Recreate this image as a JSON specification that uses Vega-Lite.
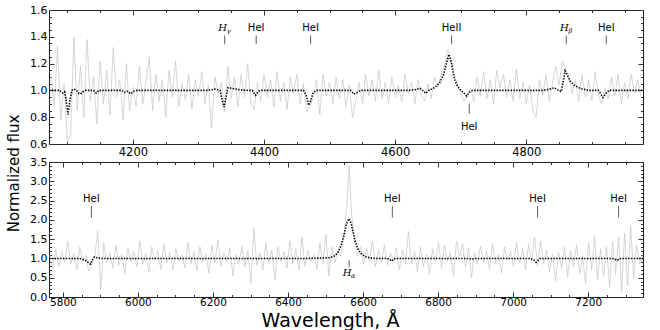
{
"$schema": "https://vega.github.io/schema/vega-lite/v6.json",
"padding": {"left": 6, "top": 3, "right": 5, "bottom": 2},
"bounds": "flush",
"spacing": 18,
"config": {"view": {"stroke": "#222", "strokeWidth": 1}, "font": "DejaVu Sans", "axis": {"labelFont": "DejaVu Sans", "titleFont": "DejaVu Sans", "labelColor": "#000", "titleColor": "#000", "tickColor": "#333", "grid": false, "domain": false, "labelFlush": false, "labelOverlap": false, "labelBound": false}},
"datasets": {
"obsTop": [
{"w":4075,"f":1.12},{"w":4080,"f":0.88},{"w":4085,"f":1.33},{"w":4090,"f":0.78},{"w":4095,"f":1.05},{"w":4100,"f":0.62},{"w":4105,"f":0.66},{"w":4110,"f":1.40},{"w":4115,"f":0.85},{"w":4120,"f":1.18},{"w":4125,"f":0.80},{"w":4130,"f":1.38},{"w":4135,"f":0.92},{"w":4140,"f":1.10},{"w":4145,"f":0.75},{"w":4150,"f":1.22},{"w":4155,"f":0.90},{"w":4160,"f":1.15},{"w":4165,"f":0.82},{"w":4170,"f":1.32},{"w":4175,"f":0.95},{"w":4180,"f":1.08},{"w":4185,"f":0.78},{"w":4190,"f":1.20},{"w":4195,"f":0.85},{"w":4200,"f":1.02},{"w":4205,"f":0.88},{"w":4210,"f":1.18},{"w":4215,"f":0.90},{"w":4220,"f":1.06},{"w":4225,"f":1.25},{"w":4230,"f":0.85},{"w":4235,"f":1.12},{"w":4240,"f":0.92},{"w":4245,"f":1.08},{"w":4250,"f":0.80},{"w":4255,"f":1.15},{"w":4260,"f":0.95},{"w":4265,"f":1.22},{"w":4270,"f":0.88},{"w":4275,"f":1.05},{"w":4280,"f":0.93},{"w":4285,"f":1.12},{"w":4290,"f":0.86},{"w":4295,"f":1.08},{"w":4300,"f":0.96},{"w":4305,"f":1.14},{"w":4310,"f":0.90},{"w":4315,"f":1.04},{"w":4320,"f":0.72},{"w":4325,"f":1.10},{"w":4330,"f":0.98},{"w":4335,"f":1.06},{"w":4340,"f":0.84},{"w":4345,"f":1.18},{"w":4350,"f":0.94},{"w":4355,"f":1.10},{"w":4360,"f":0.88},{"w":4365,"f":1.12},{"w":4370,"f":0.95},{"w":4375,"f":1.20},{"w":4380,"f":0.90},{"w":4385,"f":0.86},{"w":4390,"f":1.06},{"w":4395,"f":0.92},{"w":4400,"f":1.12},{"w":4405,"f":0.95},{"w":4410,"f":1.08},{"w":4415,"f":0.88},{"w":4420,"f":1.14},{"w":4425,"f":0.92},{"w":4430,"f":1.06},{"w":4435,"f":0.86},{"w":4440,"f":1.10},{"w":4445,"f":0.98},{"w":4450,"f":1.12},{"w":4455,"f":0.90},{"w":4460,"f":1.05},{"w":4465,"f":0.84},{"w":4470,"f":0.88},{"w":4475,"f":0.95},{"w":4480,"f":1.08},{"w":4485,"f":0.82},{"w":4490,"f":1.12},{"w":4495,"f":0.96},{"w":4500,"f":1.06},{"w":4505,"f":0.90},{"w":4510,"f":1.10},{"w":4515,"f":0.94},{"w":4520,"f":1.08},{"w":4525,"f":0.88},{"w":4530,"f":1.04},{"w":4535,"f":0.80},{"w":4540,"f":0.92},{"w":4545,"f":1.06},{"w":4550,"f":0.90},{"w":4555,"f":1.12},{"w":4560,"f":0.96},{"w":4565,"f":1.08},{"w":4570,"f":0.92},{"w":4575,"f":1.15},{"w":4580,"f":0.94},{"w":4585,"f":1.06},{"w":4590,"f":0.90},{"w":4595,"f":1.10},{"w":4600,"f":0.95},{"w":4605,"f":1.04},{"w":4610,"f":0.92},{"w":4615,"f":1.12},{"w":4620,"f":0.98},{"w":4625,"f":1.06},{"w":4630,"f":0.90},{"w":4635,"f":1.08},{"w":4640,"f":0.96},{"w":4645,"f":0.92},{"w":4650,"f":1.05},{"w":4655,"f":0.94},{"w":4660,"f":1.10},{"w":4665,"f":1.02},{"w":4670,"f":1.12},{"w":4675,"f":1.18},{"w":4680,"f":1.30},{"w":4685,"f":1.24},{"w":4690,"f":1.12},{"w":4695,"f":1.05},{"w":4700,"f":0.98},{"w":4705,"f":0.92},{"w":4710,"f":0.96},{"w":4715,"f":1.02},{"w":4720,"f":0.92},{"w":4725,"f":1.10},{"w":4730,"f":0.96},{"w":4735,"f":1.14},{"w":4740,"f":0.94},{"w":4745,"f":1.08},{"w":4750,"f":0.90},{"w":4755,"f":1.15},{"w":4760,"f":1.02},{"w":4765,"f":1.12},{"w":4770,"f":0.95},{"w":4775,"f":1.08},{"w":4780,"f":0.92},{"w":4785,"f":1.16},{"w":4790,"f":0.94},{"w":4795,"f":1.06},{"w":4800,"f":0.90},{"w":4805,"f":1.04},{"w":4810,"f":0.85},{"w":4815,"f":0.80},{"w":4820,"f":1.08},{"w":4825,"f":0.96},{"w":4830,"f":1.12},{"w":4835,"f":0.92},{"w":4840,"f":1.06},{"w":4845,"f":1.18},{"w":4850,"f":1.04},{"w":4855,"f":1.22},{"w":4860,"f":1.16},{"w":4865,"f":1.10},{"w":4870,"f":0.98},{"w":4875,"f":1.08},{"w":4880,"f":0.92},{"w":4885,"f":1.12},{"w":4890,"f":0.95},{"w":4895,"f":1.08},{"w":4900,"f":0.92},{"w":4905,"f":1.14},{"w":4910,"f":0.96},{"w":4915,"f":0.90},{"w":4920,"f":1.02},{"w":4925,"f":0.94},{"w":4930,"f":1.10},{"w":4935,"f":0.96},{"w":4940,"f":1.12},{"w":4945,"f":0.90},{"w":4950,"f":1.06},{"w":4955,"f":0.94},{"w":4960,"f":1.12},{"w":4965,"f":0.98},{"w":4970,"f":1.08},{"w":4975,"f":0.95}
],
"modTop": [
{"w":4072,"f":1.0},{"w":4088,"f":1.0},{"w":4093,"f":0.98},{"w":4096,"f":0.99},{"w":4098,"f":0.93},{"w":4101,"f":0.82},{"w":4104,"f":0.93},{"w":4107,"f":1.0},{"w":4110,"f":1.01},{"w":4114,"f":1.0},{"w":4117,"f":0.98},{"w":4120,"f":0.973},{"w":4124,"f":0.99},{"w":4128,"f":1.0},{"w":4140,"f":1.0},{"w":4144,"f":0.98},{"w":4148,"f":1.0},{"w":4183,"f":1.0},{"w":4187,"f":0.985},{"w":4191,"f":0.995},{"w":4197,"f":0.975},{"w":4202,"f":0.995},{"w":4206,"f":1.0},{"w":4315,"f":1.0},{"w":4325,"f":1.01},{"w":4333,"f":1.0},{"w":4336,"f":0.93},{"w":4339,"f":0.876},{"w":4342,"f":0.95},{"w":4345,"f":1.02},{"w":4352,"f":1.015},{"w":4362,"f":1.005},{"w":4375,"f":1.0},{"w":4382,"f":1.0},{"w":4387,"f":0.963},{"w":4392,"f":0.995},{"w":4396,"f":1.0},{"w":4460,"f":1.0},{"w":4464,"f":0.97},{"w":4468,"f":0.889},{"w":4471,"f":0.92},{"w":4475,"f":0.985},{"w":4480,"f":1.0},{"w":4532,"f":1.0},{"w":4537,"f":0.972},{"w":4542,"f":0.985},{"w":4547,"f":1.0},{"w":4620,"f":1.0},{"w":4630,"f":1.005},{"w":4638,"f":1.015},{"w":4642,"f":1.0},{"w":4647,"f":0.978},{"w":4651,"f":1.0},{"w":4660,"f":1.02},{"w":4668,"f":1.058},{"w":4674,"f":1.12},{"w":4678,"f":1.2},{"w":4682,"f":1.269},{"w":4686,"f":1.2},{"w":4690,"f":1.09},{"w":4695,"f":1.03},{"w":4700,"f":1.0},{"w":4705,"f":0.98},{"w":4709,"f":0.958},{"w":4713,"f":0.985},{"w":4718,"f":1.0},{"w":4825,"f":1.0},{"w":4836,"f":1.01},{"w":4843,"f":1.02},{"w":4849,"f":1.0},{"w":4853,"f":0.99},{"w":4856,"f":1.06},{"w":4859,"f":1.145},{"w":4863,"f":1.11},{"w":4867,"f":1.07},{"w":4873,"f":1.04},{"w":4882,"f":1.015},{"w":4895,"f":1.0},{"w":4910,"f":1.0},{"w":4914,"f":0.97},{"w":4917,"f":0.946},{"w":4921,"f":0.975},{"w":4926,"f":1.0},{"w":4978,"f":1.0}
],
"mkTop": [
{"w":4340,"lab":"H","sub":"γ","ty":1.466,"t1":1.41,"t2":1.345},
{"w":4388,"lab":"HeI","sub":"","ty":1.466,"t1":1.41,"t2":1.345},
{"w":4471,"lab":"HeI","sub":"","ty":1.466,"t1":1.41,"t2":1.345},
{"w":4686,"lab":"HeII","sub":"","ty":1.466,"t1":1.41,"t2":1.345},
{"w":4861,"lab":"H","sub":"β","ty":1.466,"t1":1.41,"t2":1.345},
{"w":4922,"lab":"HeI","sub":"","ty":1.466,"t1":1.41,"t2":1.345},
{"w":4713,"lab":"HeI","sub":"","ty":0.728,"t1":0.9,"t2":0.825}
],
"obsBot": [
{"w":5765,"f":1.10},{"w":5773,"f":0.72},{"w":5781,"f":1.25},{"w":5789,"f":0.80},{"w":5797,"f":1.18},{"w":5805,"f":0.90},{"w":5813,"f":1.45},{"w":5821,"f":0.85},{"w":5829,"f":1.12},{"w":5837,"f":0.70},{"w":5845,"f":1.30},{"w":5853,"f":0.92},{"w":5861,"f":1.08},{"w":5869,"f":0.68},{"w":5877,"f":0.82},{"w":5885,"f":1.05},{"w":5893,"f":1.72},{"w":5901,"f":0.20},{"w":5909,"f":1.40},{"w":5917,"f":0.88},{"w":5925,"f":1.15},{"w":5933,"f":0.75},{"w":5941,"f":1.35},{"w":5949,"f":0.82},{"w":5957,"f":1.10},{"w":5965,"f":0.60},{"w":5973,"f":1.28},{"w":5981,"f":0.90},{"w":5989,"f":1.18},{"w":5997,"f":0.78},{"w":6005,"f":1.45},{"w":6013,"f":0.85},{"w":6021,"f":1.12},{"w":6029,"f":0.65},{"w":6037,"f":1.30},{"w":6045,"f":0.95},{"w":6053,"f":1.20},{"w":6061,"f":0.72},{"w":6069,"f":1.38},{"w":6077,"f":0.88},{"w":6085,"f":1.15},{"w":6093,"f":0.70},{"w":6101,"f":1.25},{"w":6109,"f":0.92},{"w":6117,"f":1.10},{"w":6125,"f":0.75},{"w":6133,"f":1.42},{"w":6141,"f":0.85},{"w":6149,"f":1.18},{"w":6157,"f":0.68},{"w":6165,"f":1.30},{"w":6173,"f":0.90},{"w":6181,"f":1.12},{"w":6189,"f":0.62},{"w":6197,"f":1.35},{"w":6205,"f":0.88},{"w":6213,"f":1.48},{"w":6221,"f":0.80},{"w":6229,"f":1.15},{"w":6237,"f":0.92},{"w":6245,"f":1.28},{"w":6253,"f":0.55},{"w":6261,"f":1.10},{"w":6269,"f":0.85},{"w":6277,"f":1.32},{"w":6285,"f":0.78},{"w":6293,"f":1.20},{"w":6301,"f":0.35},{"w":6309,"f":1.78},{"w":6317,"f":0.82},{"w":6325,"f":1.15},{"w":6333,"f":0.70},{"w":6341,"f":1.40},{"w":6349,"f":0.88},{"w":6357,"f":1.22},{"w":6365,"f":0.45},{"w":6373,"f":1.30},{"w":6381,"f":0.92},{"w":6389,"f":1.18},{"w":6397,"f":0.75},{"w":6405,"f":1.45},{"w":6413,"f":0.85},{"w":6421,"f":1.25},{"w":6429,"f":0.70},{"w":6437,"f":1.55},{"w":6445,"f":0.80},{"w":6453,"f":1.20},{"w":6461,"f":0.92},{"w":6469,"f":1.10},{"w":6477,"f":0.72},{"w":6485,"f":1.40},{"w":6493,"f":0.85},{"w":6501,"f":1.62},{"w":6509,"f":0.55},{"w":6517,"f":1.30},{"w":6525,"f":0.90},{"w":6533,"f":1.20},{"w":6541,"f":1.05},{"w":6549,"f":1.55},{"w":6557,"f":2.40},{"w":6563,"f":3.40},{"w":6569,"f":2.20},{"w":6577,"f":1.50},{"w":6585,"f":1.05},{"w":6593,"f":1.30},{"w":6601,"f":0.85},{"w":6609,"f":1.25},{"w":6617,"f":0.92},{"w":6625,"f":1.45},{"w":6633,"f":0.78},{"w":6641,"f":1.20},{"w":6649,"f":0.90},{"w":6657,"f":1.35},{"w":6665,"f":0.82},{"w":6673,"f":1.15},{"w":6681,"f":0.92},{"w":6689,"f":1.28},{"w":6697,"f":0.70},{"w":6705,"f":1.22},{"w":6713,"f":0.88},{"w":6721,"f":1.70},{"w":6729,"f":0.85},{"w":6737,"f":1.18},{"w":6745,"f":0.65},{"w":6753,"f":1.30},{"w":6761,"f":0.80},{"w":6769,"f":1.10},{"w":6777,"f":0.60},{"w":6785,"f":1.25},{"w":6793,"f":0.90},{"w":6801,"f":1.42},{"w":6809,"f":0.75},{"w":6817,"f":1.35},{"w":6825,"f":0.92},{"w":6833,"f":1.15},{"w":6841,"f":0.55},{"w":6849,"f":1.45},{"w":6857,"f":1.05},{"w":6865,"f":1.38},{"w":6873,"f":0.78},{"w":6881,"f":1.28},{"w":6889,"f":0.50},{"w":6897,"f":1.15},{"w":6905,"f":0.85},{"w":6913,"f":1.32},{"w":6921,"f":0.90},{"w":6929,"f":1.20},{"w":6937,"f":0.72},{"w":6945,"f":1.38},{"w":6953,"f":0.85},{"w":6961,"f":1.10},{"w":6969,"f":0.62},{"w":6977,"f":1.30},{"w":6985,"f":0.95},{"w":6993,"f":1.18},{"w":7001,"f":0.80},{"w":7009,"f":1.42},{"w":7017,"f":0.88},{"w":7025,"f":1.25},{"w":7033,"f":0.70},{"w":7041,"f":1.38},{"w":7049,"f":0.92},{"w":7057,"f":1.55},{"w":7065,"f":0.80},{"w":7073,"f":1.45},{"w":7081,"f":0.85},{"w":7089,"f":1.22},{"w":7097,"f":0.65},{"w":7105,"f":1.10},{"w":7113,"f":0.40},{"w":7121,"f":1.15},{"w":7129,"f":0.75},{"w":7137,"f":1.30},{"w":7145,"f":0.52},{"w":7153,"f":1.20},{"w":7161,"f":0.80},{"w":7169,"f":1.35},{"w":7177,"f":0.60},{"w":7185,"f":1.05},{"w":7193,"f":0.35},{"w":7201,"f":1.40},{"w":7209,"f":0.70},{"w":7217,"f":1.60},{"w":7225,"f":0.45},{"w":7233,"f":1.25},{"w":7241,"f":0.55},{"w":7249,"f":1.30},{"w":7257,"f":0.25},{"w":7265,"f":1.45},{"w":7273,"f":0.60},{"w":7281,"f":1.55},{"w":7289,"f":0.15},{"w":7297,"f":1.65},{"w":7305,"f":0.30},{"w":7313,"f":1.85},{"w":7321,"f":0.50},{"w":7329,"f":1.35},{"w":7337,"f":0.85},{"w":7345,"f":1.10}
],
"modBot": [
{"w":5763,"f":1.0},{"w":5840,"f":1.0},{"w":5850,"f":0.99},{"w":5860,"f":0.95},{"w":5868,"f":0.89},{"w":5874,"f":0.85},{"w":5879,"f":0.97},{"w":5884,"f":1.04},{"w":5890,"f":1.02},{"w":5900,"f":1.0},{"w":6450,"f":1.0},{"w":6490,"f":1.01},{"w":6512,"f":1.02},{"w":6525,"f":1.07},{"w":6534,"f":1.17},{"w":6542,"f":1.35},{"w":6549,"f":1.6},{"w":6556,"f":1.9},{"w":6562,"f":2.03},{"w":6568,"f":1.92},{"w":6573,"f":1.7},{"w":6579,"f":1.45},{"w":6586,"f":1.25},{"w":6594,"f":1.13},{"w":6605,"f":1.05},{"w":6620,"f":1.01},{"w":6640,"f":1.0},{"w":6665,"f":1.0},{"w":6672,"f":0.97},{"w":6676,"f":0.93},{"w":6680,"f":0.97},{"w":6686,"f":1.0},{"w":6880,"f":1.0},{"w":6890,"f":0.98},{"w":6900,"f":1.0},{"w":7045,"f":1.0},{"w":7055,"f":0.96},{"w":7061,"f":0.9},{"w":7066,"f":0.95},{"w":7072,"f":1.0},{"w":7265,"f":1.0},{"w":7273,"f":0.97},{"w":7278,"f":0.95},{"w":7283,"f":0.99},{"w":7288,"f":1.0},{"w":7346,"f":1.0}
],
"mkBot": [
{"w":5876,"lab":"HeI","sub":"","ty":2.55,"t1":2.36,"t2":2.06},
{"w":6678,"lab":"HeI","sub":"","ty":2.55,"t1":2.36,"t2":2.06},
{"w":7065,"lab":"HeI","sub":"","ty":2.55,"t1":2.36,"t2":2.06},
{"w":7281,"lab":"HeI","sub":"","ty":2.55,"t1":2.36,"t2":2.06},
{"w":6563,"lab":"H","sub":"α","ty":0.63,"t1":0.95,"t2":0.78}
]
},
"vconcat": [
{
"width": 594, "height": 134,
"layer": [
{"data": {"name": "obsTop"},
 "mark": {"type": "line", "color": "#c4c4c4", "strokeWidth": 0.7, "clip": true},
 "encoding": {
  "x": {"field": "w", "type": "quantitative", "scale": {"domain": [4072, 4978], "nice": false, "zero": false},
   "axis": {"orient": "bottom", "values": [4100,4150,4200,4250,4300,4350,4400,4450,4500,4550,4600,4650,4700,4750,4800,4850,4900,4950], "format": "d", "labelExpr": "datum.value % 200 === 0 ? datum.label : ''", "tickSize": {"condition": {"test": "datum.value % 200 === 0", "value": -5}, "value": -2.5}, "labelPadding": 7, "labelFontSize": 11.5, "title": null}},
  "y": {"field": "f", "type": "quantitative", "scale": {"domain": [0.6, 1.6], "nice": false, "zero": false},
   "axis": {"orient": "left", "values": [0.6,0.65,0.7,0.75,0.8,0.85,0.9,0.95,1.0,1.05,1.1,1.15,1.2,1.25,1.3,1.35,1.4,1.45,1.5,1.55,1.6], "format": ".1f", "labelExpr": "abs(datum.value*5-round(datum.value*5)) < 0.001 ? datum.label : ''", "tickSize": {"condition": {"test": "abs(datum.value*5-round(datum.value*5)) < 0.001", "value": -5}, "value": -2.5}, "labelPadding": 7, "labelFontSize": 11,
    "title": "Normalized flux", "titleFontSize": 15, "titleFontWeight": "normal", "titleX": -35.5, "titleY": 163, "titleAngle": -90, "titleAlign": "center", "titleBaseline": "middle"}}
 }},
{"data": {"name": "modTop"},
 "mark": {"type": "line", "color": "#000", "strokeWidth": 1.6, "strokeDash": [1.4, 1.4], "clip": true},
 "encoding": {
  "x": {"field": "w", "type": "quantitative", "scale": {"domain": [4072, 4978], "nice": false, "zero": false},
   "axis": {"orient": "top", "values": [4100,4150,4200,4250,4300,4350,4400,4450,4500,4550,4600,4650,4700,4750,4800,4850,4900,4950], "labels": false, "tickSize": {"condition": {"test": "datum.value % 200 === 0", "value": -5}, "value": -2.5}, "title": null}},
  "y": {"field": "f", "type": "quantitative", "scale": {"domain": [0.6, 1.6], "nice": false, "zero": false},
   "axis": {"orient": "right", "values": [0.6,0.65,0.7,0.75,0.8,0.85,0.9,0.95,1.0,1.05,1.1,1.15,1.2,1.25,1.3,1.35,1.4,1.45,1.5,1.55,1.6], "labels": false, "tickSize": {"condition": {"test": "abs(datum.value*5-round(datum.value*5)) < 0.001", "value": -5}, "value": -2.5}, "title": null}}
 }},
{"data": {"name": "mkTop"},
 "mark": {"type": "rule", "color": "#333", "strokeWidth": 0.8},
 "encoding": {
  "x": {"field": "w", "type": "quantitative", "scale": {"domain": [4072, 4978], "nice": false, "zero": false}, "axis": null},
  "y": {"field": "t1", "type": "quantitative", "scale": {"domain": [0.6, 1.6], "nice": false, "zero": false}, "axis": null},
  "y2": {"field": "t2"}
 }},
{"data": {"name": "mkTop"},
 "transform": [{"filter": "datum.sub == ''"}],
 "mark": {"type": "text", "fontSize": 10, "font": "DejaVu Sans", "color": "#000"},
 "encoding": {
  "x": {"field": "w", "type": "quantitative", "scale": {"domain": [4072, 4978], "nice": false, "zero": false}, "axis": null},
  "y": {"field": "ty", "type": "quantitative", "scale": {"domain": [0.6, 1.6], "nice": false, "zero": false}, "axis": null},
  "text": {"field": "lab"}
 }},
{"data": {"name": "mkTop"},
 "transform": [{"filter": "datum.sub != ''"}],
 "mark": {"type": "text", "fontSize": 10, "font": "DejaVu Serif", "fontStyle": "italic", "color": "#000", "dx": -2},
 "encoding": {
  "x": {"field": "w", "type": "quantitative", "scale": {"domain": [4072, 4978], "nice": false, "zero": false}, "axis": null},
  "y": {"field": "ty", "type": "quantitative", "scale": {"domain": [0.6, 1.6], "nice": false, "zero": false}, "axis": null},
  "text": {"field": "lab"}
 }},
{"data": {"name": "mkTop"},
 "transform": [{"filter": "datum.sub != ''"}],
 "mark": {"type": "text", "fontSize": 6.5, "font": "DejaVu Serif", "fontStyle": "italic", "color": "#000", "dx": 4, "dy": 3},
 "encoding": {
  "x": {"field": "w", "type": "quantitative", "scale": {"domain": [4072, 4978], "nice": false, "zero": false}, "axis": null},
  "y": {"field": "ty", "type": "quantitative", "scale": {"domain": [0.6, 1.6], "nice": false, "zero": false}, "axis": null},
  "text": {"field": "sub"}
 }}
],
"resolve": {"axis": {"x": "independent", "y": "independent"}}
},
{
"width": 594, "height": 135,
"layer": [
{"data": {"name": "obsBot"},
 "mark": {"type": "line", "color": "#c4c4c4", "strokeWidth": 0.7, "clip": true},
 "encoding": {
  "x": {"field": "w", "type": "quantitative", "scale": {"domain": [5763, 7346], "nice": false, "zero": false},
   "axis": {"orient": "bottom", "values": [5800,5850,5900,5950,6000,6050,6100,6150,6200,6250,6300,6350,6400,6450,6500,6550,6600,6650,6700,6750,6800,6850,6900,6950,7000,7050,7100,7150,7200,7250,7300], "format": "d", "labelExpr": "datum.value % 200 === 0 ? datum.label : ''", "tickSize": {"condition": {"test": "datum.value % 200 === 0", "value": -5}, "value": -2.5}, "labelPadding": 5, "labelFontSize": 10.5,
    "title": "Wavelength, Å", "titleFontSize": 19, "titleFontWeight": "normal", "titleX": 281, "titleY": 29, "titleAlign": "center", "titleBaseline": "alphabetic"}},
  "y": {"field": "f", "type": "quantitative", "scale": {"domain": [0, 3.5], "nice": false, "zero": false},
   "axis": {"orient": "left", "values": [0,0.1,0.2,0.3,0.4,0.5,0.6,0.7,0.8,0.9,1.0,1.1,1.2,1.3,1.4,1.5,1.6,1.7,1.8,1.9,2.0,2.1,2.2,2.3,2.4,2.5,2.6,2.7,2.8,2.9,3.0,3.1,3.2,3.3,3.4,3.5], "format": ".1f", "labelExpr": "abs(datum.value*2-round(datum.value*2)) < 0.001 ? datum.label : ''", "tickSize": {"condition": {"test": "abs(datum.value*2-round(datum.value*2)) < 0.001", "value": -5}, "value": -2.5}, "labelPadding": 7, "labelFontSize": 11, "title": null}}
 }},
{"data": {"name": "modBot"},
 "mark": {"type": "line", "color": "#000", "strokeWidth": 1.6, "strokeDash": [1.4, 1.4], "clip": true},
 "encoding": {
  "x": {"field": "w", "type": "quantitative", "scale": {"domain": [5763, 7346], "nice": false, "zero": false},
   "axis": {"orient": "top", "values": [5800,5850,5900,5950,6000,6050,6100,6150,6200,6250,6300,6350,6400,6450,6500,6550,6600,6650,6700,6750,6800,6850,6900,6950,7000,7050,7100,7150,7200,7250,7300], "labels": false, "tickSize": {"condition": {"test": "datum.value % 200 === 0", "value": -5}, "value": -2.5}, "title": null}},
  "y": {"field": "f", "type": "quantitative", "scale": {"domain": [0, 3.5], "nice": false, "zero": false},
   "axis": {"orient": "right", "values": [0,0.1,0.2,0.3,0.4,0.5,0.6,0.7,0.8,0.9,1.0,1.1,1.2,1.3,1.4,1.5,1.6,1.7,1.8,1.9,2.0,2.1,2.2,2.3,2.4,2.5,2.6,2.7,2.8,2.9,3.0,3.1,3.2,3.3,3.4,3.5], "labels": false, "tickSize": {"condition": {"test": "abs(datum.value*2-round(datum.value*2)) < 0.001", "value": -5}, "value": -2.5}, "title": null}}
 }},
{"data": {"name": "mkBot"},
 "mark": {"type": "rule", "color": "#333", "strokeWidth": 0.8},
 "encoding": {
  "x": {"field": "w", "type": "quantitative", "scale": {"domain": [5763, 7346], "nice": false, "zero": false}, "axis": null},
  "y": {"field": "t1", "type": "quantitative", "scale": {"domain": [0, 3.5], "nice": false, "zero": false}, "axis": null},
  "y2": {"field": "t2"}
 }},
{"data": {"name": "mkBot"},
 "transform": [{"filter": "datum.sub == ''"}],
 "mark": {"type": "text", "fontSize": 10, "font": "DejaVu Sans", "color": "#000"},
 "encoding": {
  "x": {"field": "w", "type": "quantitative", "scale": {"domain": [5763, 7346], "nice": false, "zero": false}, "axis": null},
  "y": {"field": "ty", "type": "quantitative", "scale": {"domain": [0, 3.5], "nice": false, "zero": false}, "axis": null},
  "text": {"field": "lab"}
 }},
{"data": {"name": "mkBot"},
 "transform": [{"filter": "datum.sub != ''"}],
 "mark": {"type": "text", "fontSize": 10, "font": "DejaVu Serif", "fontStyle": "italic", "color": "#000", "dx": -2},
 "encoding": {
  "x": {"field": "w", "type": "quantitative", "scale": {"domain": [5763, 7346], "nice": false, "zero": false}, "axis": null},
  "y": {"field": "ty", "type": "quantitative", "scale": {"domain": [0, 3.5], "nice": false, "zero": false}, "axis": null},
  "text": {"field": "lab"}
 }},
{"data": {"name": "mkBot"},
 "transform": [{"filter": "datum.sub != ''"}],
 "mark": {"type": "text", "fontSize": 6.5, "font": "DejaVu Serif", "fontStyle": "italic", "color": "#000", "dx": 4, "dy": 3},
 "encoding": {
  "x": {"field": "w", "type": "quantitative", "scale": {"domain": [5763, 7346], "nice": false, "zero": false}, "axis": null},
  "y": {"field": "ty", "type": "quantitative", "scale": {"domain": [0, 3.5], "nice": false, "zero": false}, "axis": null},
  "text": {"field": "sub"}
 }}
],
"resolve": {"axis": {"x": "independent", "y": "independent"}}
}
]
}
